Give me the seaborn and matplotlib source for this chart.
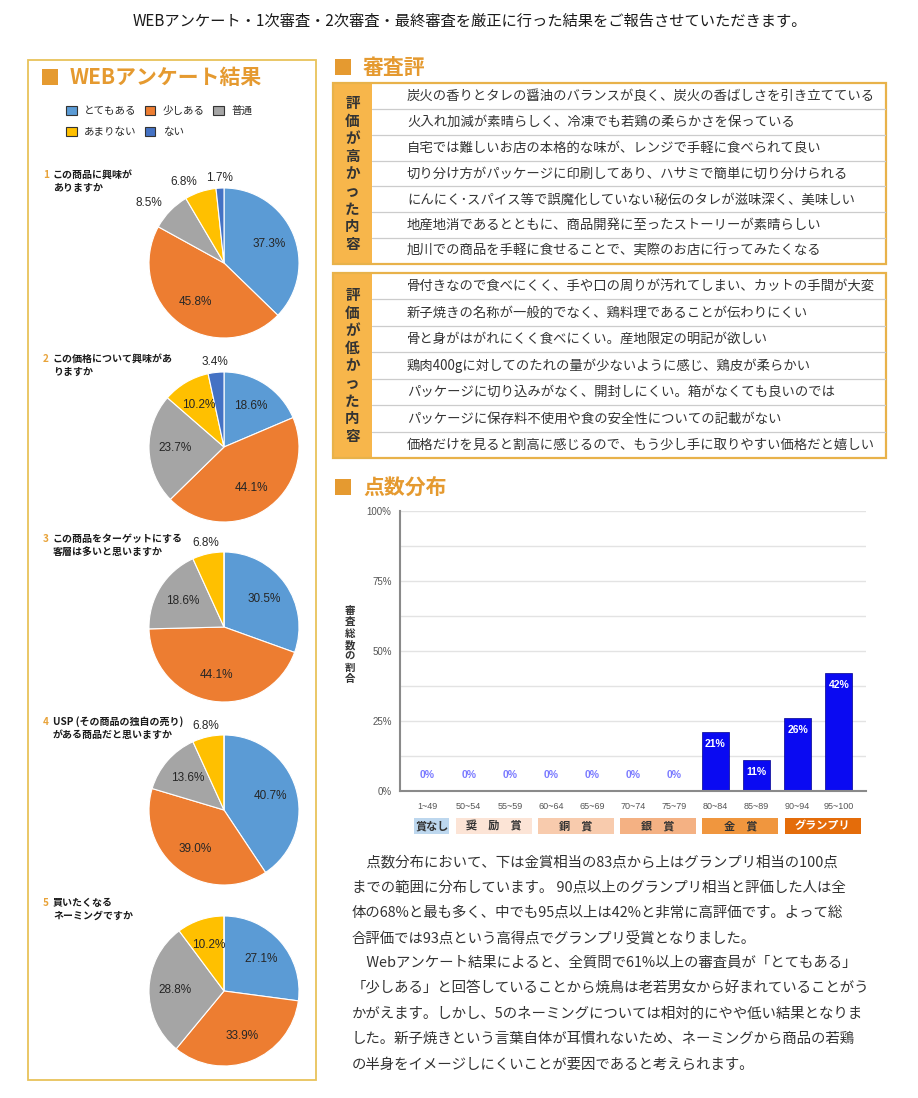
import matplotlib
matplotlib.use('Agg')
import matplotlib.pyplot as plt
import matplotlib.transforms as mtransforms
from matplotlib.patches import Rectangle, Patch
import numpy as np
import seaborn as sns

sns.set_style('white')
plt.rcParams['font.family'] = ['Noto Sans CJK JP', 'DejaVu Sans']

W, H = 918, 1098

# ---- データ ----
page_title = 'WEBアンケート・1次審査・2次審査・最終審査を厳正に行った結果をご報告させていただきます。'

answer_labels = ['とてもある', '少しある', '普通', 'あまりない', 'ない']
answer_colors = ['#5B9BD5', '#ED7D31', '#A5A5A5', '#FFC000', '#4472C4']

question_line1 = ['この商品に興味が', 'この価格について興味があ', 'この商品をターゲットにする',
                  'USP (その商品の独自の売り)', '買いたくなる']
question_line2 = ['ありますか', 'りますか', '客層は多いと思いますか',
                  'がある商品だと思いますか', 'ネーミングですか']
q1_values = [37.3, 45.8, 8.5, 6.8, 1.7]
q2_values = [18.6, 44.1, 23.7, 10.2, 3.4]
q3_values = [30.5, 44.1, 18.6, 6.8, 0.0]
q4_values = [40.7, 39.0, 13.6, 6.8, 0.0]
q5_values = [27.1, 33.9, 28.8, 10.2, 0.0]

good_reviews = [
    '炭火の香りとタレの醤油のバランスが良く、炭火の香ばしさを引き立てている',
    '火入れ加減が素晴らしく、冷凍でも若鶏の柔らかさを保っている',
    '自宅では難しいお店の本格的な味が、レンジで手軽に食べられて良い',
    '切り分け方がパッケージに印刷してあり、ハサミで簡単に切り分けられる',
    'にんにく･スパイス等で誤魔化していない秘伝のタレが滋味深く、美味しい',
    '地産地消であるとともに、商品開発に至ったストーリーが素晴らしい',
    '旭川での商品を手軽に食せることで、実際のお店に行ってみたくなる',
]
bad_reviews = [
    '骨付きなので食べにくく、手や口の周りが汚れてしまい、カットの手間が大変',
    '新子焼きの名称が一般的でなく、鶏料理であることが伝わりにくい',
    '骨と身がはがれにくく食べにくい。産地限定の明記が欲しい',
    '鶏肉400gに対してのたれの量が少ないように感じ、鶏皮が柔らかい',
    'パッケージに切り込みがなく、開封しにくい。箱がなくても良いのでは',
    'パッケージに保存料不使用や食の安全性についての記載がない',
    '価格だけを見ると割高に感じるので、もう少し手に取りやすい価格だと嬉しい',
]

score_bins = ['1~49', '50~54', '55~59', '60~64', '65~69', '70~74',
              '75~79', '80~84', '85~89', '90~94', '95~100']
score_shares = [0, 0, 0, 0, 0, 0, 0, 21, 11, 26, 42]

award_names = ['賞なし', '奨　励　賞', '銅　賞', '銀　賞', '金　賞', 'グランプリ']
award_first_bin = [0, 1, 3, 5, 7, 9]
award_last_bin = [0, 2, 4, 6, 8, 10]
award_colors = ['#BDD7EE', '#FCE4D6', '#F8CBAD', '#F4B183', '#F0963E', '#E46C0A']

summary_lines = [
    '\u3000点数分布において、下は金賞相当の83点から上はグランプリ相当の100点',
    'までの範囲に分布しています。 90点以上のグランプリ相当と評価した人は全',
    '体の68%と最も多く、中でも95点以上は42%と非常に高評価です。よって総',
    '合評価では93点という高得点でグランプリ受賞となりました。',
    '\u3000Webアンケート結果によると、全質問で61%以上の審査員が「とてもある」',
    '「少しある」と回答していることから焼鳥は老若男女から好まれていることがう',
    'かがえます。しかし、5のネーミングについては相対的にやや低い結果となりま',
    'した。新子焼きという言葉自体が耳慣れないため、ネーミングから商品の若鶏',
    'の半身をイメージしにくいことが要因であると考えられます。',
]

ORANGE = '#E59A30'
GOLD = '#E8B24A'


def fy(y):
    return 1 - y / H


def px_rect(x0, y0, x1, y1):
    return [x0 / W, 1 - y1 / H, (x1 - x0) / W, (y1 - y0) / H]


def header(x, y, text):
    fig.add_artist(Rectangle((x / W, fy(y + 8)), 16 / W, 16 / H, transform=fig.transFigure,
                             fc=ORANGE, ec='none'))
    fig.text((x + 28) / W, fy(y), text, fontsize=15, weight='bold', color=ORANGE,
             ha='left', va='center')


fig = plt.figure(figsize=(W / 100, H / 100), dpi=100)
fig.patch.set_facecolor('white')

fig.text(470 / W, fy(21), page_title, ha='center', va='center', fontsize=11, color='#1a1a1a')

# ---- 左: WEBアンケート結果 ----
fig.add_artist(Rectangle((28 / W, fy(1080)), 288 / W, 1020 / H, transform=fig.transFigure,
                         fill=False, ec='#E8C35A', lw=1.3))
header(42, 77, 'WEBアンケート結果')

order = [0, 3, 1, 4, 2]
fig.legend(handles=[Patch(fc=answer_colors[i], ec='#333333', lw=0.8) for i in order],
           labels=[answer_labels[i] for i in order], ncol=3, loc='upper left',
           bbox_to_anchor=(66 / W, fy(106)), frameon=False, fontsize=7.6,
           handlelength=1.0, handleheight=1.0, handletextpad=0.7, columnspacing=0.8,
           labelspacing=1.0, borderpad=0, borderaxespad=0)

all_values = [q1_values, q2_values, q3_values, q4_values, q5_values]
pie_cy = [263, 447, 627, 810, 991]
for i, vals in enumerate(all_values):
    cy = pie_cy[i]
    ty = cy - 88
    fig.text(43 / W, fy(ty), str(i + 1), fontsize=7.2, weight='bold', color='#E8A33A',
             ha='left', va='center')
    fig.text(53 / W, fy(ty), question_line1[i], fontsize=7.2, weight='bold', color='#1a1a1a',
             ha='left', va='center')
    fig.text(53 / W, fy(ty + 13), question_line2[i], fontsize=7.2, weight='bold', color='#1a1a1a',
             ha='left', va='center')

    ax = fig.add_axes(px_rect(224 - 75, cy - 75, 224 + 75, cy + 75))
    wedges, _ = ax.pie(vals, colors=answer_colors, startangle=90, counterclock=False,
                       wedgeprops=dict(edgecolor='white', linewidth=0.8))
    ax.set_xlim(-1, 1)
    ax.set_ylim(-1, 1)
    for w, v in zip(wedges, vals):
        if v == 0:
            continue
        ang = np.deg2rad((w.theta1 + w.theta2) / 2)
        if v >= 9:
            d, ha = 0.65, 'center'
        else:
            d = 1.14
            c = np.cos(ang)
            ha = 'center' if abs(c) < 0.25 else ('right' if c < 0 else 'left')
        ax.text(d * np.cos(ang), d * np.sin(ang), f'{v:.1f}%', ha=ha, va='center',
                fontsize=8.5, family='Liberation Sans', color='#262626')

# ---- 右上: 審査評 ----
header(335, 67, '審査評')


def review_box(top, bottom, label, items):
    ax = fig.add_axes(px_rect(333, top, 886, bottom))
    n = len(items)
    ax.set_xlim(0, 1)
    ax.set_ylim(n, 0)
    ax.axis('off')
    lab_w = (372 - 333) / (886 - 333)
    ax.add_patch(Rectangle((0, 0), lab_w, n, fc='#F7B64B', ec='none'))
    for k in range(1, n):
        ax.plot([lab_w, 1], [k, k], color='#CCCCCC', lw=0.9)
    ax.add_patch(Rectangle((0, 0), 1, n, fill=False, ec=GOLD, lw=1.6, clip_on=False))
    ax.text(lab_w / 2, n / 2, '\n'.join(label), ha='center', va='center', fontsize=10.5,
            weight='bold', color='#333333', linespacing=1.12)
    for k, item in enumerate(items):
        ax.text((407 - 333) / (886 - 333), k + 0.5, item, ha='left', va='center',
                fontsize=9.6, color='#333333')


review_box(83, 264, '評価が高かった内容', good_reviews)
review_box(273, 458, '評価が低かった内容', bad_reviews)

# ---- 右中: 点数分布 ----
header(335, 487, '点数分布')

ax = fig.add_axes(px_rect(400, 511, 866, 791))
sns.barplot(x=score_bins, y=score_shares, color='#0A0AF2', saturation=1, width=0.65,
            edgecolor='#00008B', linewidth=0.5, ax=ax)
ax.set_ylim(0, 100)
ax.set_xlim(-0.67, 10.66)
ax.set_yticks([0, 25, 50, 75, 100])
ax.set_yticklabels(['0%', '25%', '50%', '75%', '100%'])
ax.set_yticks(np.arange(0, 101, 12.5), minor=True)
ax.grid(axis='y', which='both', color='#E3E3E3', lw=1)
ax.set_axisbelow(True)
ax.set_xlabel('')
ax.set_ylabel('')
for s in ['top', 'right']:
    ax.spines[s].set_visible(False)
for s in ['left', 'bottom']:
    ax.spines[s].set_color('#8A8A8A')
    ax.spines[s].set_linewidth(1.5)
ax.tick_params(axis='x', length=0, pad=8, labelsize=6.5, labelcolor='#555555')
ax.tick_params(axis='y', which='both', length=0, pad=6, labelsize=7, labelcolor='#555555')
for lbl in ax.get_xticklabels() + ax.get_yticklabels():
    lbl.set_family('Liberation Sans')

bars = ax.containers[0]
ax.bar_label(bars, labels=[f'{v}%' if v > 0 else '' for v in score_shares], padding=-12,
             color='white', fontsize=7.5, family='Liberation Sans', weight='bold')
ax.bar_label(bars, labels=['0%' if v == 0 else '' for v in score_shares], padding=8,
             color='#7A7AFF', fontsize=7.5, family='Liberation Sans', weight='bold')

fig.text(350 / W, fy(645), '\n'.join('審査総数の割合'), ha='center', va='center',
         fontsize=7.5, weight='bold', color='#333333', linespacing=1.15)

trans = mtransforms.blended_transform_factory(ax.transData, fig.transFigure)
for name, a, b, fc in zip(award_names, award_first_bin, award_last_bin, award_colors):
    x0, x1 = a - 0.32, b + 0.53
    fig.add_artist(Rectangle((x0, fy(834)), x1 - x0, 16 / H, transform=trans, fc=fc, ec='none'))
    tc = 'white' if name == 'グランプリ' else '#333333'
    fig.text((x0 + x1) / 2, fy(826), name, transform=trans, ha='center', va='center',
             fontsize=8, weight='bold', color=tc)

# ---- 右下: 所見 ----
for k, line in enumerate(summary_lines):
    fig.text(352 / W, fy(862 + k * 25.3), line, ha='left', va='center', fontsize=10.4,
             color='#333333')

fig.savefig('out.png', dpi=100)
